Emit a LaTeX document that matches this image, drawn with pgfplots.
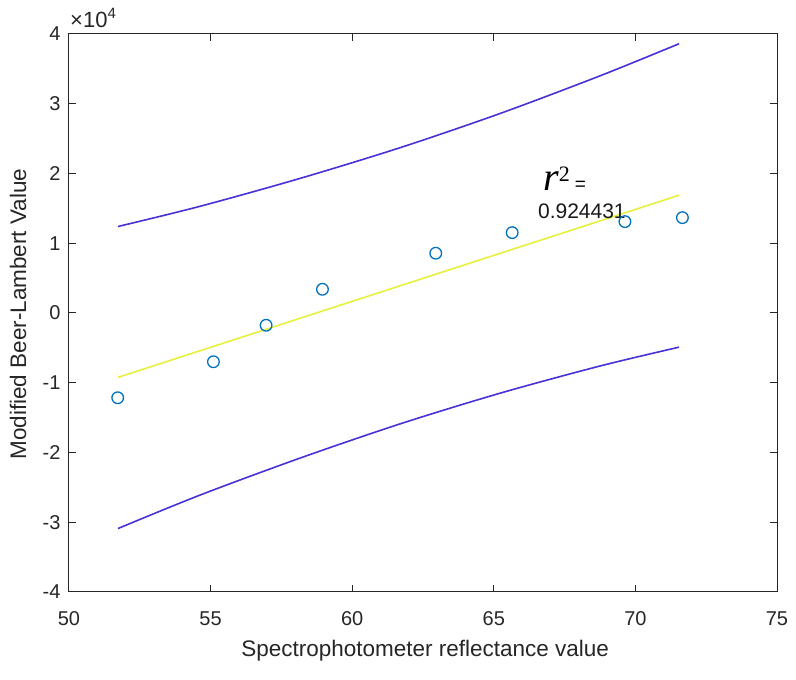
\documentclass[border=0pt]{standalone}
\usepackage{fontspec}
\setmainfont{Liberation Sans}
\newfontfamily\serif{Liberation Serif}
\usepackage{pgfplots}
\pgfplotsset{compat=1.18}
\definecolor{axgray}{rgb}{0.15,0.15,0.15}
\definecolor{mblue}{rgb}{0,0.447,0.741}
\definecolor{bnd}{RGB}{70,50,215}
\definecolor{fitc}{RGB}{232,240,60}
\begin{document}
\begin{tikzpicture}
\useasboundingbox (-69pt,-88pt) rectangle (727pt,592pt);
\begin{axis}[
  at={(0,0)}, anchor=south west,
  scale only axis, width=708pt, height=558pt,
  xmin=50, xmax=75, ymin=-40000, ymax=40000,
  clip=false,
  xtick={50,55,...,75},
  ytick={-40000,-30000,-20000,-10000,0,10000,20000,30000,40000},
  yticklabels={-4,-3,-2,-1,0,1,2,3,4},
  scaled y ticks=false,
  tick align=inside, major tick length=7pt,
  axis line style={axgray, line width=1pt},
  tick style={axgray, line width=1pt},
  /pgf/number format/assume math mode=true,
  ticklabel style={font=\fontsize{20}{20}\selectfont, text=axgray},
  xticklabel style={anchor=base, yshift=-34pt},
  yticklabel style={anchor=east, xshift=-5pt},
  xlabel={Spectrophotometer reflectance value},
  ylabel={Modified Beer-Lambert Value},
  xlabel style={at={(axis description cs:0.503,-0.1147)}, anchor=base, font=\fontsize{22.5}{24}\selectfont, text=axgray},
  ylabel style={at={(axis description cs:-0.0607,0.498)}, anchor=base, font=\fontsize{22.5}{24}\selectfont, text=axgray},
]
\addplot[bnd, line width=1.6pt, smooth] coordinates {(51.73,12400) (54.63,15300) (58.16,19300) (61.69,23700) (65.22,28600) (68.75,34000) (71.54,38600)};
\addplot[bnd, line width=1.6pt, smooth] coordinates {(51.73,-30900) (54.63,-26100) (58.16,-20800) (61.69,-15900) (65.22,-11500) (68.75,-7600) (71.54,-4900)};
\addplot[fitc, line width=1.6pt] coordinates {(51.73,-9230) (71.54,16880)};
\addplot[only marks, mark=o, mark size=5.8pt, mblue, line width=1.3pt] coordinates {(51.72,-12150) (55.10,-6990) (56.96,-1760) (58.95,3400) (62.95,8570) (65.65,11520) (69.63,13100) (71.66,13670)};
\node[anchor=base west, inner sep=0, text=axgray] at (rel axis cs:0,1) [xshift=1pt, yshift=6pt] {\fontsize{22}{22}\selectfont ×10\raisebox{9pt}{\fontsize{15}{15}\selectfont 4}};
\node[anchor=base west, inner sep=0] at (axis cs:66.74,17500) {{\serif\itshape\fontsize{40}{40}\selectfont r}\raisebox{9pt}{\serif\fontsize{22}{22}\selectfont 2}\hspace{5pt}{\fontsize{19}{19}\selectfont =}};
\node[anchor=base, inner sep=0, text=black!90] at (axis cs:68.11,13490) {\fontsize{21}{21}\selectfont 0.924431};
\end{axis}
\end{tikzpicture}
\end{document}
